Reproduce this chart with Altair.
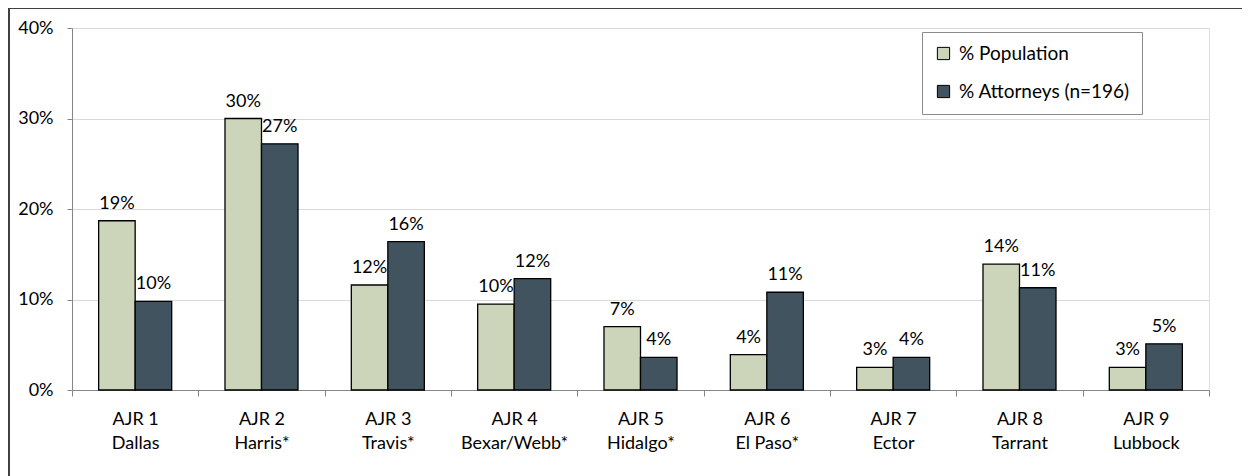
import altair as alt
import pandas as pd

ajr = ["AJR 1", "AJR 2", "AJR 3", "AJR 4", "AJR 5", "AJR 6", "AJR 7", "AJR 8", "AJR 9"]
county = ["Dallas", "Harris*", "Travis*", "Bexar/Webb*", "Hidalgo*", "El Paso*", "Ector", "Tarrant", "Lubbock"]
population = [18.7, 30.0, 11.6, 9.5, 7.0, 3.9, 2.5, 13.9, 2.5]
attorneys = [9.8, 27.2, 16.4, 12.3, 3.6, 10.8, 3.6, 11.3, 5.1]
series = ["% Population", "% Attorneys (n=196)"]
colors = ["#ccd5b9", "#40535f"]

cats = [f"{a}|{c}" for a, c in zip(ajr, county)]
rows = []
for i, cat in enumerate(cats):
    rows.append({"cat": cat, "series": series[0], "value": population[i]})
    rows.append({"cat": cat, "series": series[1], "value": attorneys[i]})
df = pd.DataFrame(rows)

FONT = "Lato"

x = alt.X("cat:N", sort=cats, title=None,
          scale=alt.Scale(paddingInner=0, paddingOuter=0),
          axis=alt.Axis(labelExpr="split(datum.label, '|')", labelAngle=0,
                        labelFontSize=18, labelColor="black", labelLineHeight=24,
                        labelPadding=14, tickBand="extent", tickSize=6,
                        tickColor="#868686", domainColor="#868686",
                        labelFont=FONT, grid=False))
xo = alt.XOffset("series:N", sort=series,
                 scale=alt.Scale(domain=series, paddingInner=0, paddingOuter=0.73))
y = alt.Y("value:Q", title=None,
          scale=alt.Scale(domain=[0, 40]),
          axis=alt.Axis(values=[0, 10, 20, 30, 40], labelExpr="datum.value + '%'",
                        labelFontSize=18, labelColor="black", labelPadding=14,
                        tickSize=5, tickColor="#868686", domainColor="#868686",
                        gridColor="#d9d9d9", labelFont=FONT))

base = alt.Chart(df)

bars = base.mark_bar(stroke="black", strokeWidth=1.3).encode(
    x=x, xOffset=xo, y=y,
    color=alt.Color("series:N", sort=series,
                    scale=alt.Scale(domain=series, range=colors),
                    legend=alt.Legend(title=None, orient="none", legendX=850, legendY=4,
                                      direction="vertical", symbolType="square",
                                      symbolSize=150, symbolStrokeColor="black",
                                      symbolStrokeWidth=1, labelFontSize=19,
                                      labelFont=FONT, labelColor="black", labelLimit=400,
                                      labelOffset=6, rowPadding=18, padding=12,
                                      strokeColor="#8c8c8c", fillColor="white",
                                      offset=0)),
)

labels = base.transform_calculate(
    lab="format(datum.value, '.0f') + '%'"
).mark_text(baseline="alphabetic", dy=-12, fontSize=18, font=FONT, color="black").encode(
    x=x, xOffset=xo, y=y, text="lab:N"
)

frame = alt.Chart(pd.DataFrame({"k": [0]})).mark_rect(
    fillOpacity=0, stroke="#404040", strokeWidth=2
).encode(x=alt.value(-63), x2=alt.value(1300), y=alt.value(-20), y2=alt.value(500))

chart = alt.layer(bars, labels, frame).properties(
    width=1137, height=362,
    autosize=alt.AutoSizeParams(type="none"),
    padding={"left": 64, "top": 20, "right": 33, "bottom": 100},
).configure_view(stroke=None).configure(font=FONT)

chart.save("out.html", embed_options={"renderer": "svg", "actions": False})
